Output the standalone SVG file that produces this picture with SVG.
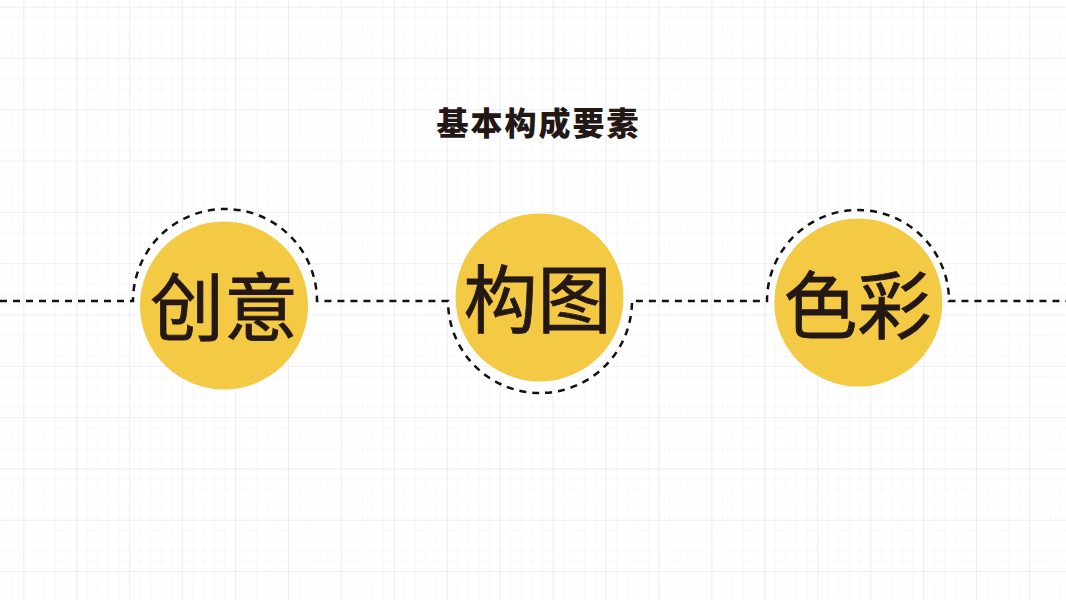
<svg xmlns="http://www.w3.org/2000/svg" width="1066" height="600" viewBox="0 0 1066 600">
  <defs>
    <pattern id="minor" x="23.3" y="6.7" width="10.586" height="10.26" patternUnits="userSpaceOnUse">
      <path d="M0 0H10.586M0 0V10.26" fill="none" stroke="#F3F3F8" stroke-width="1"/>
    </pattern>
    <pattern id="major" x="23.3" y="6.7" width="52.93" height="51.3" patternUnits="userSpaceOnUse">
      <path d="M0 0H52.93M0 0V51.3" fill="none" stroke="#E6E7F1" stroke-width="1.2"/>
    </pattern>
    <style>
      .dash{fill:none;stroke:#111;stroke-width:2.5;stroke-dasharray:7 6}
      .disc{fill:#F4C943}
      .lbl{font-family:"Noto Sans CJK SC","Noto Sans CJK JP",sans-serif;font-size:74px;font-weight:400;fill:#231815;stroke:#231815;stroke-width:0.8;text-anchor:middle;dominant-baseline:central}
      .title{font-family:"Noto Sans CJK SC","Noto Sans CJK JP",sans-serif;font-size:32px;font-weight:900;fill:#231815;text-anchor:middle;dominant-baseline:central;letter-spacing:2px}
    </style>
  </defs>
  <rect width="1066" height="600" fill="#FFFFFF"/>
  <rect width="1066" height="600" fill="url(#minor)"/>
  <rect width="1066" height="600" fill="url(#major)"/>

  <text class="title" x="538.5" y="121">基本构成要素</text>

  <g id="connectors">
    <path class="dash" d="M0 301H133 A92 92 0 0 1 317 301 H448 A92 92 0 0 0 632 301 H767 A91 91 0 0 1 949 301 H1066"/>
  </g>

  <g id="node-chuangyi">
    <circle class="disc" cx="224" cy="305.5" r="84"/>
    <text class="lbl" x="224" y="302">创意</text>
  </g>
  <g id="node-goutu">
    <circle class="disc" cx="539.5" cy="297.5" r="84"/>
    <text class="lbl" x="537.5" y="294">构图</text>
  </g>
  <g id="node-secai">
    <circle class="disc" cx="858.3" cy="302.5" r="84"/>
    <text class="lbl" x="857.5" y="300">色彩</text>
  </g>
</svg>
